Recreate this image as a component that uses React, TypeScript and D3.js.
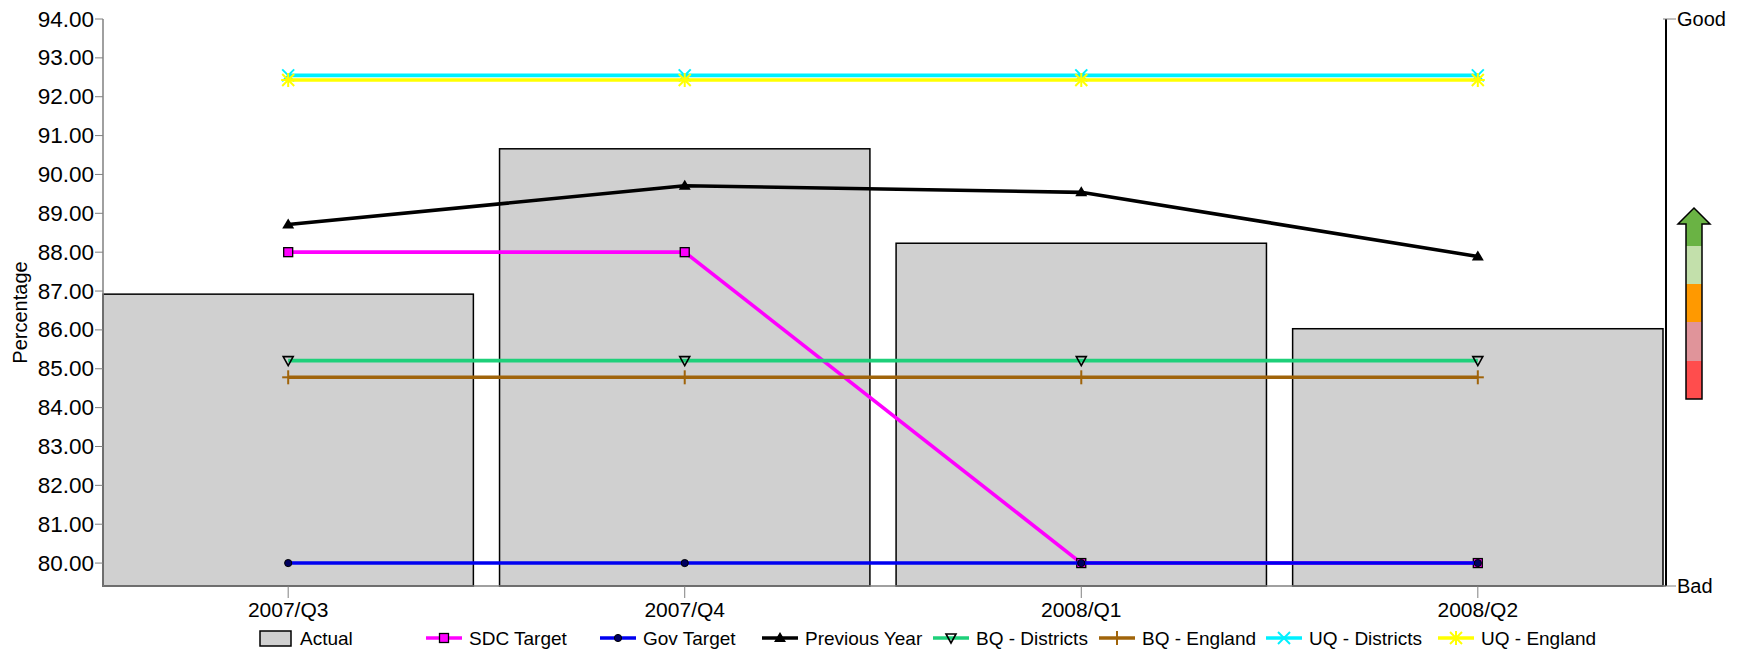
import React from 'react';
import * as d3 from 'd3';

const categories = ['2007/Q3', '2007/Q4', '2008/Q1', '2008/Q2'];
const actual = [86.92, 90.66, 88.23, 86.03];
const sdcTarget = [88, 88, 80, 80];
const govTarget = [80, 80, 80, 80];
const previousYear = [88.71, 89.71, 89.54, 87.89];
const bqDistricts = [85.21, 85.21, 85.21, 85.21];
const bqEngland = [84.78, 84.78, 84.78, 84.78];
const uqDistricts = [92.55, 92.55, 92.55, 92.55];
const uqEngland = [92.43, 92.43, 92.43, 92.43];
const yTicks = [80, 81, 82, 83, 84, 85, 86, 87, 88, 89, 90, 91, 92, 93, 94];
const yLabel = 'Percentage';
const scaleLabels = ['Good', 'Bad'];

type Marker = 'square' | 'circle' | 'triUp' | 'triDown' | 'plus' | 'cross' | 'star';
interface SeriesDef { name: string; values: number[]; color: string; marker: Marker; }

const series: SeriesDef[] = [
  { name: 'SDC Target', values: sdcTarget, color: '#FF00FF', marker: 'square' },
  { name: 'Gov Target', values: govTarget, color: '#0000F0', marker: 'circle' },
  { name: 'Previous Year', values: previousYear, color: '#000000', marker: 'triUp' },
  { name: 'BQ - Districts', values: bqDistricts, color: '#1ED07A', marker: 'triDown' },
  { name: 'BQ - England', values: bqEngland, color: '#A0640A', marker: 'plus' },
  { name: 'UQ - Districts', values: uqDistricts, color: '#00F0FF', marker: 'cross' },
  { name: 'UQ - England', values: uqEngland, color: '#FFFF00', marker: 'star' },
];

const FONT = '"Liberation Sans", Arial, sans-serif';
const W = 1741;
const H = 653;
const plotLeft = 103;
const plotRight = 1666;
const plotTop = 19;
const plotBottom = 586;

function MarkerShape({ type, cx, cy, color }: { type: Marker; cx: number; cy: number; color: string }) {
  switch (type) {
    case 'square':
      return <rect x={cx - 4.5} y={cy - 4.5} width={9} height={9} fill={color} stroke="#000" strokeWidth={1.3} />;
    case 'circle':
      return <circle cx={cx} cy={cy} r={3.6} fill="#000060" stroke="#000" strokeWidth={1} />;
    case 'triUp':
      return <path d={`M${cx},${cy - 6} L${cx + 6},${cy + 4} L${cx - 6},${cy + 4} Z`} fill="#000" />;
    case 'triDown':
      return <path d={`M${cx - 5},${cy - 4} L${cx + 5},${cy - 4} L${cx},${cy + 5} Z`} fill="none" stroke="#000" strokeWidth={1.6} />;
    case 'plus':
      return (
        <g stroke={color} strokeWidth={2}>
          <line x1={cx - 6} y1={cy} x2={cx + 6} y2={cy} />
          <line x1={cx} y1={cy - 7} x2={cx} y2={cy + 7} />
        </g>
      );
    case 'cross':
      return (
        <g stroke={color} strokeWidth={2}>
          <line x1={cx - 6} y1={cy - 6} x2={cx + 6} y2={cy + 6} />
          <line x1={cx - 6} y1={cy + 6} x2={cx + 6} y2={cy - 6} />
        </g>
      );
    case 'star':
      return (
        <g stroke={color} strokeWidth={2}>
          <line x1={cx - 6} y1={cy - 6} x2={cx + 6} y2={cy + 6} />
          <line x1={cx - 6} y1={cy + 6} x2={cx + 6} y2={cy - 6} />
          <line x1={cx} y1={cy - 7} x2={cx} y2={cy + 7} />
          <line x1={cx - 7} y1={cy} x2={cx + 7} y2={cy} />
        </g>
      );
  }
  return null;
}

export default function App() {
  const x = d3.scaleBand<string>().domain(categories).range([plotLeft, plotRight - 3]).paddingInner(0.066).paddingOuter(0);
  const y = d3.scaleLinear().domain([79.41, 94]).range([plotBottom, plotTop]);
  const cx = (c: string) => (x(c) as number) + x.bandwidth() / 2;
  const line = d3.line<number>().x((_, i) => cx(categories[i])).y((v) => y(v));

  const legendLineX = [426, 600, 762, 933, 1099, 1266, 1438];
  const legendY = 638;

  // arrow indicator
  const aTip = 208, aHeadBase = 224, aBottom = 399;
  const aShaftL = 1686, aShaftR = 1702, aHeadL = 1678, aHeadR = 1710, aMid = 1694;
  const arrowPath = `M${aMid},${aTip} L${aHeadR},${aHeadBase} L${aShaftR},${aHeadBase} L${aShaftR},${aBottom} L${aShaftL},${aBottom} L${aShaftL},${aHeadBase} L${aHeadL},${aHeadBase} Z`;
  const bandColors = ['#6AB344', '#C3E0AB', '#FF9900', '#E0949A', '#FF4D4D'];
  const bandEdges = [aTip, 246, 284, 322, 361, aBottom];

  return (
    <svg width={W} height={H} style={{ position: 'absolute', left: 0, top: 0, display: 'block' }} fontFamily={FONT}>
      <rect width={W} height={H} fill="#fff" />
      {/* bars */}
      {categories.map((c, i) => (
        <rect key={c} x={x(c)} y={y(actual[i])} width={x.bandwidth()} height={plotBottom - y(actual[i])}
          fill="#D0D0D0" stroke="#000" strokeWidth={1.5} />
      ))}
      {/* lines */}
      {series.map((s) => (
        <g key={s.name}>
          <path d={line(s.values) as string} fill="none" stroke={s.color} strokeWidth={3.6} strokeLinejoin="round" />
          {s.values.map((v, i) => (
            <MarkerShape key={i} type={s.marker} cx={cx(categories[i])} cy={y(v)} color={s.color} />
          ))}
        </g>
      ))}
      {/* left axis */}
      <line x1={plotLeft} y1={plotTop} x2={plotLeft} y2={plotBottom} stroke="#808080" strokeWidth={1.5} />
      {yTicks.map((t) => (
        <g key={t}>
          <line x1={95} x2={plotLeft} y1={y(t)} y2={y(t)} stroke="#808080" strokeWidth={1} />
          <text x={94} y={y(t)} textAnchor="end" dominantBaseline="central" fontSize={22.5} fill="#000">{t.toFixed(2)}</text>
        </g>
      ))}
      <text transform={`translate(20,${(plotTop + plotBottom) / 2 + 10}) rotate(-90)`} textAnchor="middle" dominantBaseline="central" fontSize={20}>{yLabel}</text>
      {/* bottom axis */}
      <line x1={plotLeft} y1={plotBottom} x2={plotRight} y2={plotBottom} stroke="#808080" strokeWidth={1.5} />
      {categories.map((c) => (
        <g key={c}>
          <line x1={cx(c)} x2={cx(c)} y1={plotBottom} y2={plotBottom + 12} stroke="#808080" strokeWidth={1} />
          <text x={cx(c)} y={609} textAnchor="middle" dominantBaseline="central" fontSize={21}>{c}</text>
        </g>
      ))}
      {/* right good/bad axis */}
      <line x1={plotRight} y1={plotTop} x2={plotRight} y2={plotBottom} stroke="#000" strokeWidth={2} />
      {[plotTop, plotBottom].map((py, i) => (
        <g key={i}>
          <line x1={plotRight - 3} x2={plotRight + 10} y1={py} y2={py} stroke="#808080" strokeWidth={1} />
          <text x={plotRight + 11} y={py} dominantBaseline="central" fontSize={20}>{scaleLabels[i]}</text>
        </g>
      ))}
      {/* arrow */}
      <defs>
        <clipPath id="arrowClip"><path d={arrowPath} /></clipPath>
      </defs>
      <g clipPath="url(#arrowClip)">
        {bandColors.map((col, i) => (
          <rect key={i} x={aHeadL - 2} y={bandEdges[i]} width={aHeadR - aHeadL + 4} height={bandEdges[i + 1] - bandEdges[i]} fill={col} />
        ))}
      </g>
      <path d={arrowPath} fill="none" stroke="#000" strokeWidth={1.5} strokeLinejoin="miter" />
      {/* legend */}
      <rect x={260} y={631} width={31} height={15} fill="#D0D0D0" stroke="#000" strokeWidth={1.5} />
      <text x={300} y={legendY} dominantBaseline="central" fontSize={19}>Actual</text>
      {series.map((s, i) => {
        const lx = legendLineX[i];
        return (
          <g key={s.name}>
            <line x1={lx} x2={lx + 36} y1={legendY} y2={legendY} stroke={s.color} strokeWidth={3.6} />
            <MarkerShape type={s.marker} cx={lx + 18} cy={legendY} color={s.color} />
            <text x={lx + 43} y={legendY} dominantBaseline="central" fontSize={19}>{s.name}</text>
          </g>
        );
      })}
    </svg>
  );
}
